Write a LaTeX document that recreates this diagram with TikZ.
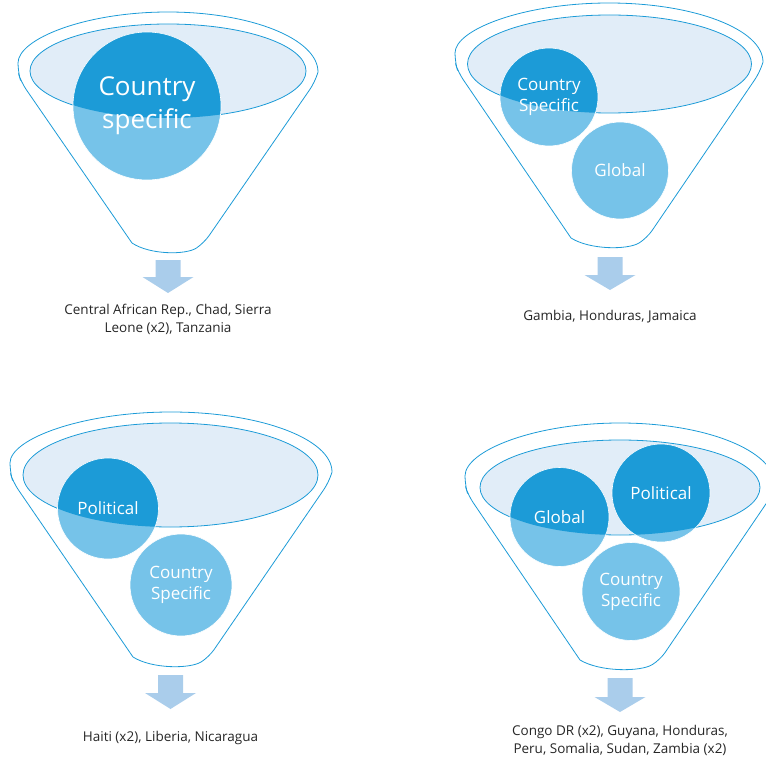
\documentclass[tikz,border=0pt]{standalone}
\usepackage{fontspec}
\setmainfont{Open Sans}
\usetikzlibrary{arrows.meta,calc,positioning}
\definecolor{funblue}{HTML}{1C9BD7}
\definecolor{funlight}{HTML}{76C3E9}
\definecolor{funpale}{HTML}{E1EDF8}
\definecolor{funarrow}{HTML}{AACDEB}
\definecolor{funtext}{HTML}{262626}
% outer funnel: centre x, rim centre y, rim rx, rim ry, half width at bottom, bottom y
\newcommand{\funnel}[6]{%
  \draw[funline] (#1-#5,#6) [rounded corners=9pt] -- (#1-#3+3,#2+10) -- (#1-#3,#2) [sharp corners]
    arc[start angle=180,end angle=360,x radius=#3,y radius=#4]
    [rounded corners=9pt] -- (#1+#3-3,#2+10) -- (#1+#5,#6) [sharp corners]
    .. controls (#1+#5/2,#6+12) and (#1-#5/2,#6+12) .. (#1-#5,#6) -- cycle;}
% block arrow: centre x, top y, head y, tip y
\newcommand{\dropArrow}[4]{%
  \fill[funarrow] (#1-12.5,#2) -- (#1+12.5,#2) -- (#1+12.5,#3) -- (#1+25.5,#3)
    -- (#1,#4) -- (#1-25.5,#3) -- (#1-12.5,#3) -- cycle;}

\begin{document}
\begin{tikzpicture}[x=1pt,y=-1pt,
  funline/.style={draw=funblue,line width=0.8pt},
  rim/.style={funline,fill=funpale},
  bubble/.style={circle,fill=funlight,draw=white,line width=0.6pt,text=white,
    align=center,inner sep=0pt,font=\fontsize{17}{21}\selectfont},
  caption/.style={align=center,text=funtext,font=\fontsize{13.5}{18}\selectfont}]
\useasboundingbox (0,0) rectangle (766,757);

% top left
\funnel{168}{72}{150}{60}{36}{243}
\coordinate (i1) at (168,71);
\draw[rim] (i1) ellipse[x radius=138pt,y radius=47pt];
\node[bubble,minimum size=148pt,font=\fontsize{26}{33}\selectfont,
  path picture={\fill[funblue] (i1) ellipse[x radius=138pt,y radius=47pt];}]
  (cs1) at (147,106) {Country\\specific};
\dropArrow{168}{260}{277}{293}
\node[caption] (t1) at (168,319) {Central African Rep., Chad, Sierra\\Leone (x2), Tanzania};

% top right
\funnel{609}{62}{154}{59}{38}{238}
\coordinate (i2) at (609.5,64);
\draw[rim] (i2) ellipse[x radius=142pt,y radius=49pt];
\node[bubble,minimum size=98pt,
  path picture={\fill[funblue] (i2) ellipse[x radius=142pt,y radius=49pt];}]
  (cs2) at (549,97) {Country\\Specific};
\node[bubble,minimum size=97pt] (gl2) at (620,170.5) {Global};
\dropArrow{610}{257}{275}{290}
\node[caption] (t2) at (610,317) {Gambia, Honduras, Jamaica};

% bottom left
\funnel{171}{472}{161}{60}{38}{657}
\coordinate (i3) at (170.5,475);
\draw[rim] (i3) ellipse[x radius=147.5pt,y radius=52pt];
\node[bubble,minimum size=101pt,
  path picture={\fill[funblue] (i3) ellipse[x radius=147.5pt,y radius=52pt];}]
  (po3) at (108,508.5) {Political};
\node[bubble,minimum size=102pt] (cs3) at (181,585) {Country\\Specific};
\dropArrow{170.5}{675}{693}{709}
\node[caption] (t3) at (170.5,738) {Haiti (x2), Liberia, Nicaragua};

% bottom right
\funnel{620}{485}{155}{62}{40}{660}
\coordinate (i4) at (620,487.5);
\draw[rim] (i4) ellipse[x radius=140pt,y radius=47.5pt];
\node[bubble,minimum size=99pt,
  path picture={\fill[funblue] (i4) ellipse[x radius=140pt,y radius=47.5pt];}]
  (gl4) at (559.5,517) {Global};
\node[bubble,minimum size=98pt,
  path picture={\fill[funblue] (i4) ellipse[x radius=140pt,y radius=47.5pt];}]
  (po4) at (661,493) {Political};
\node[bubble,minimum size=98pt] (cs4) at (631,591.5) {Country\\Specific};
\dropArrow{620}{678}{697}{712}
\node[caption] (t4) at (620,740) {Congo DR (x2), Guyana, Honduras,\\Peru, Somalia, Sudan, Zambia (x2)};
\end{tikzpicture}
\end{document}
